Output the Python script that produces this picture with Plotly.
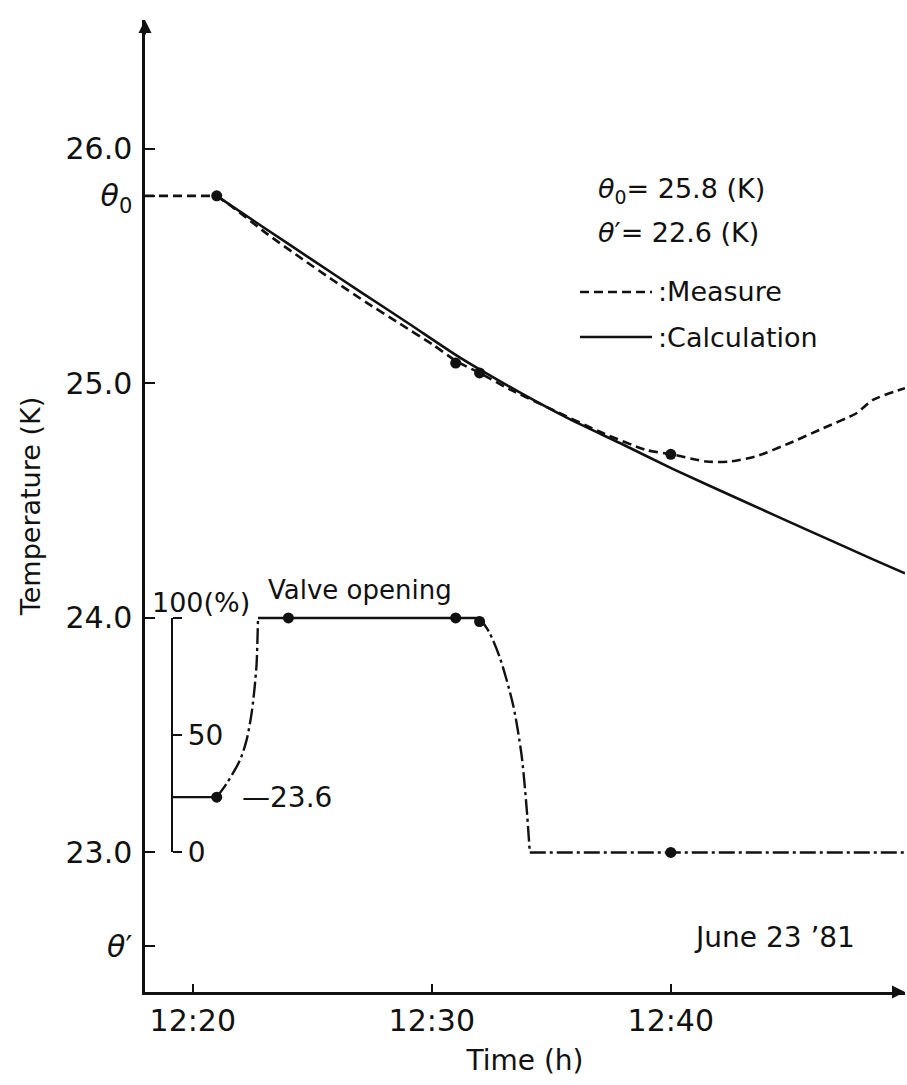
import plotly.graph_objects as go

# ---------------- data (time in minutes after 12:00) ----------------
meas_flat_t = [18.0, 21.0]
meas_flat_T = [25.8, 25.8]
meas_t = [21.0, 21.69, 23.08, 24.48, 25.87, 27.27, 28.66, 30.05, 31.03, 32.0,
          33.26, 35.07, 37.17, 38.98, 40.03, 41.49, 42.47, 43.59, 44.96, 46.37,
          47.77, 48.46, 49.8]
meas_T = [25.8, 25.75, 25.64, 25.538, 25.44, 25.345, 25.255, 25.165, 25.095, 25.045,
          24.975, 24.887, 24.788, 24.716, 24.698, 24.667, 24.667, 24.69, 24.745, 24.809,
          24.873, 24.93, 24.98]

calc_t = [21.0, 23.0, 25.0, 27.0, 29.0, 31.0, 32.0, 33.68, 35.77, 37.87, 40.1,
          42.89, 45.68, 48.46, 49.8]
calc_T = [25.8, 25.663, 25.527, 25.392, 25.258, 25.122, 25.06, 24.962, 24.848, 24.746, 24.635,
          24.505, 24.377, 24.25, 24.19]

temp_dot_t = [21, 31, 32, 40]
temp_dot_T = [25.8, 25.087, 25.045, 24.698]

# valve opening (%)
valve_start_t = [19.12, 21.0]
valve_start_p = [23.6, 23.6]
valve_rise_t = [21.0, 21.41, 21.97, 22.25, 22.46, 22.59, 22.67, 22.73]
valve_rise_p = [23.6, 29.3, 39.3, 47.9, 59.3, 70.7, 80.6, 100]
valve_full_t = [22.73, 32.0]
valve_full_p = [100, 100]
valve_drop_t = [32.0, 32.4, 32.85, 33.4, 33.75, 33.96, 34.1]
valve_drop_p = [100, 94, 83, 63, 42, 20, 0]
valve_closed_t = [34.1, 49.8]
valve_closed_p = [0, 0]
valve_dot_t = [21, 24, 31, 32, 40]
valve_dot_p = [23.6, 100, 100, 98.5, 0]

x_ticks = [20, 30, 40]
x_ticktext = ["12:20", "12:30", "12:40"]
y_ticks = [22.6, 23.0, 24.0, 25.0, 25.8, 26.0]
y_ticktext = ["<i>θ</i>′", "23.0", "24.0", "25.0", "<i>θ</i><sub>0</sub>", "26.0"]
valve_ticks = [0, 50, 100]
valve_ticktext = ["0", "50", ""]

# ---------------- layout geometry ----------------
W, H = 907, 1085
ML, MR, MT, MB = 145, 2, 20, 93
X_RANGE = [18.0, 49.8]
Y_RANGE = [22.405, 26.55]
Y2_RANGE = [(Y_RANGE[0] - 23.0) * 100, (Y_RANGE[1] - 23.0) * 100]
PW, PH = W - ML - MR, H - MT - MB


def px(x):
    return (x - ML) / PW


def py(y):
    return (H - MB - y) / PH


FONT = "DejaVu Sans"
BLACK = "#111111"

fig = go.Figure()

DASH = "9px,5px"
DASHDOT = "16px,4px,3px,4px"

fig.add_trace(go.Scatter(x=meas_flat_t, y=meas_flat_T, mode="lines",
                         line=dict(color=BLACK, width=2.6, dash=DASH),
                         showlegend=False, hoverinfo="skip"))
fig.add_trace(go.Scatter(x=meas_t, y=meas_T, mode="lines",
                         line=dict(color=BLACK, width=2.6, dash=DASH, shape="spline", smoothing=0.6),
                         showlegend=False, hoverinfo="skip"))
fig.add_trace(go.Scatter(x=calc_t, y=calc_T, mode="lines",
                         line=dict(color=BLACK, width=2.6, shape="spline", smoothing=0.6),
                         showlegend=False, hoverinfo="skip"))
fig.add_trace(go.Scatter(x=temp_dot_t, y=temp_dot_T, mode="markers",
                         marker=dict(color=BLACK, size=11), showlegend=False, hoverinfo="skip"))

# valve traces on overlaid hidden axis y2
for t, p, dash, shp in [(valve_start_t, valve_start_p, "solid", "linear"),
                        (valve_rise_t, valve_rise_p, DASHDOT, "spline"),
                        (valve_full_t, valve_full_p, "solid", "linear"),
                        (valve_drop_t, valve_drop_p, DASHDOT, "spline"),
                        (valve_closed_t, valve_closed_p, DASHDOT, "linear")]:
    fig.add_trace(go.Scatter(x=t, y=p, yaxis="y2", mode="lines",
                             line=dict(color=BLACK, width=2.4, dash=dash, shape=shp, smoothing=0.8),
                             showlegend=False, hoverinfo="skip"))
fig.add_trace(go.Scatter(x=valve_dot_t, y=valve_dot_p, yaxis="y2", mode="markers",
                         marker=dict(color=BLACK, size=11), showlegend=False, hoverinfo="skip"))
# carrier for the valve-opening bracket scale
fig.add_trace(go.Scatter(x=[None], y=[None], yaxis="y3", mode="lines",
                         showlegend=False, hoverinfo="skip"))

fig.update_layout(
    width=W, height=H,
    margin=dict(l=ML, r=MR, t=MT, b=MB),
    paper_bgcolor="white", plot_bgcolor="rgba(0,0,0,0)",
    font=dict(family=FONT, color=BLACK),
    showlegend=False,
    xaxis=dict(range=X_RANGE, showgrid=False, zeroline=False,
               showline=True, linecolor=BLACK, linewidth=2.5,
               ticks="inside", ticklen=8, tickwidth=2, tickcolor=BLACK,
               tickvals=x_ticks, ticktext=x_ticktext,
               tickfont=dict(size=30, family=FONT, color=BLACK),
               title=dict(text="Time (h)", font=dict(size=28, family=FONT, color=BLACK), standoff=14)),
    yaxis=dict(range=Y_RANGE, showgrid=False, zeroline=False,
               showline=True, linecolor=BLACK, linewidth=2.5,
               ticks="inside", ticklen=10, tickwidth=2, tickcolor=BLACK,
               tickvals=y_ticks, ticktext=y_ticktext,
               tickfont=dict(size=30, family=FONT, color=BLACK), ticklabelstandoff=4,
               title=dict(text="Temperature (K)", font=dict(size=27, family=FONT, color=BLACK), standoff=18)),
    yaxis2=dict(range=Y2_RANGE, overlaying="y", visible=False),
    yaxis3=dict(range=[0, 100], domain=[py(852), py(618)], anchor="free",
                position=px(172), side="right", showgrid=False, zeroline=False,
                showline=True, linecolor=BLACK, linewidth=2.2,
                ticks="outside", ticklen=9, tickwidth=2, tickcolor=BLACK,
                tickvals=valve_ticks, ticktext=valve_ticktext,
                tickfont=dict(size=28, family=FONT, color=BLACK)),
)

# axis arrowheads
fig.add_annotation(x=1, y=0, xref="paper", yref="paper", ax=-14, ay=0, text="",
                   showarrow=True, arrowhead=2, arrowsize=1.3, arrowwidth=2, arrowcolor=BLACK)
fig.add_annotation(x=0, y=1, xref="paper", yref="paper", ax=0, ay=16, text="",
                   showarrow=True, arrowhead=2, arrowsize=1.3, arrowwidth=2, arrowcolor=BLACK)


def note(text, x, y, size=28, anchor="left"):
    fig.add_annotation(text=text, x=px(x), y=py(y), xref="paper", yref="paper",
                       xanchor=anchor, yanchor="middle", showarrow=False,
                       font=dict(size=size, family=FONT, color=BLACK))


note("<i>θ</i><sub>0</sub>= 25.8 (K)", 596, 190, size=27)
note("<i>θ</i>′= 22.6 (K)", 596, 233, size=27)
note(":Measure", 656, 292, size=27)
note(":Calculation", 656, 337, size=27)
note("Valve opening", 266, 590, size=26)
note("100(%)", 150, 602, size=27)
note("—23.6", 240, 797, size=28)
note("June 23 ’81", 692, 937, size=28)

# legend line samples
fig.add_shape(type="line", xref="paper", yref="paper", x0=px(580), x1=px(652), y0=py(292), y1=py(292),
              line=dict(color=BLACK, width=2.6, dash=DASH))
fig.add_shape(type="line", xref="paper", yref="paper", x0=px(580), x1=px(652), y0=py(337), y1=py(337),
              line=dict(color=BLACK, width=2.6))

fig.write_html("out.html")
